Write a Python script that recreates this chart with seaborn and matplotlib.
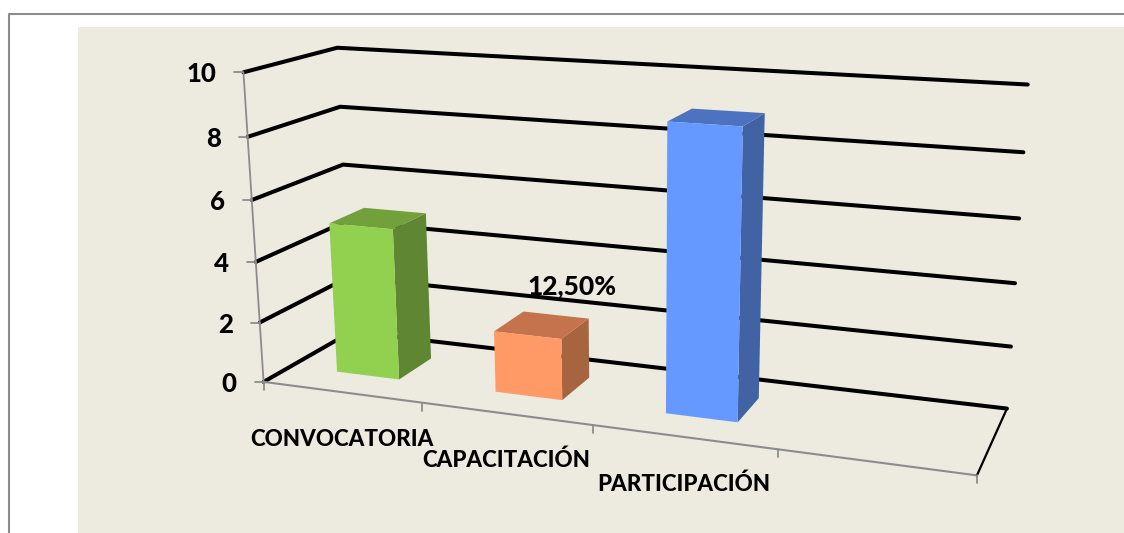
import numpy as np
import pandas as pd
import matplotlib
matplotlib.use("Agg")
import matplotlib.pyplot as plt
from matplotlib.patches import Rectangle
from matplotlib.transforms import Transform
import seaborn as sns

categories = ["CONVOCATORIA", "CAPACITACIÓN", "PARTICIPACIÓN"]
values = [5, 2, 9]
value_ticks = [0, 2, 4, 6, 8, 10]
front_colors = ["#92D050", "#FF9966", "#6699FF"]
top_colors = ["#72A03A", "#C4734C", "#4D73C0"]
side_colors = ["#5F8733", "#A6653F", "#4163A4"]
label_text = "12,50%"

sns.set_theme(style="white")
plt.rcParams["font.family"] = ["Lato", "DejaVu Sans"]

# x runs over category slots (a 4th slot stays empty), y is the value, z the depth
X_MIN, X_MAX = -0.5, 3.5
Z_FRONT, Z_BACK = 0.3, 0.7
BEIGE = "#EDEBE0"
GREY = "#8C8C8C"

# where the 3d box lands in the picture, the camera is solved from these
anchors = [
    (X_MIN, 0, 0, 263.5, 381.7), (X_MIN, 10, 0, 243.3, 72), (X_MIN, 6, 0, 252, 200),
    (X_MIN, 0, 1, 351, 332), (X_MIN, 10, 1, 337.3, 47.7), (X_MIN, 6, 1, 343.3, 164.3),
    (X_MAX, 0, 1, 1006.7, 408.3), (X_MAX, 10, 1, 1028, 85), (X_MAX, 6, 1, 1019.7, 218),
    (X_MAX, 0, 0, 976.7, 475), (0.5, 0, 0, 422.6, 403), (1.5, 0, 0, 593, 425), (2.5, 0, 0, 778, 450),
    (0.2, 0, 0.3, 399, 379.3), (1.2, 0, 0.3, 562.3, 400), (2.2, 0, 0.3, 737.7, 422.3),
    (2.2, 9, 0.7, 763.7, 113.3), (-0.2, 5, 0.7, 364.3, 208.3),
]
rows, rhs = [], []
for x, y, z, u, v in anchors:
    rows.append([x, y, z, 1, 0, 0, 0, 0, -u * x, -u * y, -u * z])
    rows.append([0, 0, 0, 0, x, y, z, 1, -v * x, -v * y, -v * z])
    rhs += [u, v]
cam = np.append(np.linalg.lstsq(np.array(rows), np.array(rhs), rcond=None)[0], 1).reshape(3, 4)


def proj(x, y, z):
    p = cam @ np.array([x, y, z, 1.0])
    return p[0] / p[2], p[1] / p[2]


class FrontFace(Transform):
    input_dims = 2
    output_dims = 2
    is_separable = False

    def transform_non_affine(self, values):
        return np.array([proj(a, b, Z_FRONT) for a, b in values])


fig = plt.figure(figsize=(11.24, 5.33), dpi=100)
ax = fig.add_axes([0, 0, 1, 1])

df = pd.DataFrame({"cat": categories, "val": values})
sns.barplot(data=df, x="cat", y="val", hue="cat", palette=front_colors, saturation=1,
            width=0.4, legend=False, ax=ax, linewidth=0, zorder=5)
bars = list(ax.patches)

ax.set_xlim(0, 1124)
ax.set_ylim(533, 0)
ax.set_axis_off()

# page frame and chart panel
ax.add_patch(Rectangle((78, 27), 1046, 506, color=BEIGE, lw=0, zorder=0))
ax.plot([9, 9, 1124], [533, 13.5, 13.5], color=GREY, lw=1.5, zorder=1)

# gridlines on the two walls
for t in value_ticks:
    pts = [proj(X_MIN, t, 0), proj(X_MIN, t, 1), proj(X_MAX, t, 1)]
    ax.plot(*zip(*pts), color="black", lw=2.9, solid_capstyle="round", solid_joinstyle="miter", zorder=2)
    px, py = pts[0]
    ax.plot([px - 9, px], [py, py], color=GREY, lw=1.3, zorder=3)
    ax.text(px - 27, py + 2, str(t), ha="right", va="center", fontsize=18.5, fontweight=900, color="black")

# axes lines
ax.plot(*zip(proj(X_MIN, 0, 0), proj(X_MIN, 10, 0)), color=GREY, lw=1.3, zorder=3)
ax.plot(*zip(proj(X_MIN, 0, 0), proj(X_MAX, 0, 0)), color=GREY, lw=1.5, zorder=3)
ax.plot(*zip(proj(X_MAX, 0, 0), proj(X_MAX, 0, 1)), color="black", lw=1.6, zorder=3)
for x in np.arange(X_MIN, X_MAX + 0.5):
    px, py = proj(x, 0, 0)
    ax.plot([px, px], [py, py + 8], color=GREY, lw=1.3, zorder=3)

# the seaborn bars become the front faces, side and top come from the same rectangles
for bar, side, top in zip(bars, side_colors, top_colors):
    x0, x1, h = bar.get_x(), bar.get_x() + bar.get_width(), bar.get_height()
    bar.set_transform(FrontFace() + ax.transData)
    bar.set_clip_on(False)
    ax.fill(*zip(proj(x1, 0, Z_FRONT), proj(x1, 0, Z_BACK), proj(x1, h, Z_BACK), proj(x1, h, Z_FRONT)),
            color=side, lw=0, zorder=4)
    ax.fill(*zip(proj(x0, h, Z_FRONT), proj(x0, h, Z_BACK), proj(x1, h, Z_BACK), proj(x1, h, Z_FRONT)),
            color=top, lw=0, zorder=4)

for i, name in enumerate(categories):
    px, py = proj(i, 0, 0)
    ax.text(px, py + 47, name, ha="center", va="center", fontsize=16.1, fontweight=900, color="black", zorder=6)

px, py = proj(1, values[1], 0.5)
ax.text(px + 30, py - 39, label_text, ha="center", va="center", fontsize=19, fontweight=900, color="black", zorder=6)

fig.savefig("out.png", dpi=100)
